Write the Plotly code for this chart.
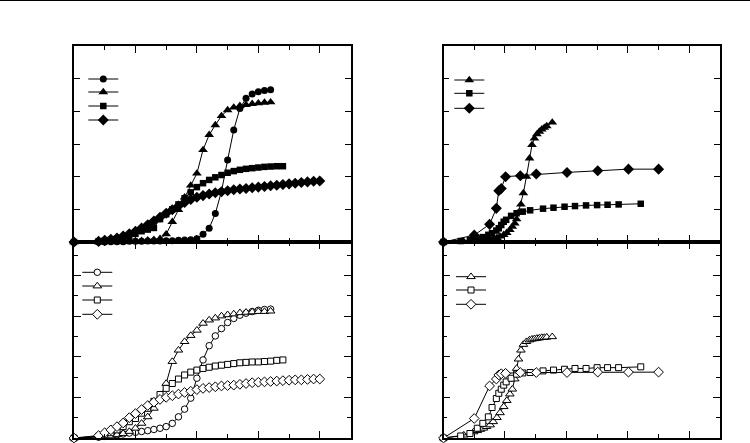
import plotly.graph_objects as go
from plotly.subplots import make_subplots

# ---------------- data ----------------
# Top-left panel (filled symbols)
tl_circle_x = [0, 0.4, 0.5, 0.6, 0.7, 0.8, 0.9, 1.0, 1.1, 1.2, 1.3, 1.4, 1.5, 1.6, 1.7, 1.8, 1.9, 2.0, 2.1, 2.2, 2.3, 2.4, 2.5, 2.6, 2.7, 2.8, 2.9, 3.0, 3.1, 3.2]
tl_circle_y = [0, 0.0, 0.0, 0.01, 0.01, 0.01, 0.02, 0.02, 0.02, 0.03, 0.03, 0.03, 0.04, 0.04, 0.05, 0.06, 0.07, 0.10, 0.24, 0.42, 0.87, 1.55, 2.51, 3.43, 4.09, 4.40, 4.53, 4.60, 4.64, 4.66]
tl_tri_x = tl_circle_x
tl_tri_y = [0, 0.0, 0.01, 0.01, 0.02, 0.02, 0.03, 0.03, 0.04, 0.05, 0.07, 0.10, 0.24, 0.62, 0.98, 1.37, 1.73, 2.10, 2.82, 3.28, 3.58, 3.86, 4.04, 4.12, 4.17, 4.20, 4.23, 4.25, 4.27, 4.28]
tl_sq_x = [0, 0.4, 0.5, 0.6, 0.7, 0.8, 0.9, 1.0, 1.1, 1.2, 1.3, 1.4, 1.5, 1.6, 1.7, 1.8, 1.9, 2.0, 2.1, 2.2, 2.3, 2.4, 2.5, 2.6, 2.7, 2.8, 2.9, 3.0, 3.1, 3.2, 3.3, 3.4]
tl_sq_y = [0, 0.02, 0.04, 0.07, 0.10, 0.14, 0.19, 0.25, 0.33, 0.38, 0.43, 0.70, 0.85, 1.00, 1.15, 1.34, 1.52, 1.68, 1.80, 1.90, 1.98, 2.05, 2.12, 2.17, 2.21, 2.24, 2.26, 2.28, 2.30, 2.31, 2.32, 2.32]
tl_dia_x = [0, 0.4, 0.5, 0.6, 0.7, 0.8, 0.9, 1.0, 1.1, 1.2, 1.3, 1.4, 1.5, 1.6, 1.7, 1.8, 1.9, 2.0, 2.1, 2.2, 2.3, 2.4, 2.5, 2.6, 2.7, 2.8, 2.9, 3.0, 3.1, 3.2, 3.3, 3.4, 3.5, 3.6, 3.7, 3.8, 3.9, 4.0]
tl_dia_y = [0, 0.02, 0.05, 0.08, 0.12, 0.18, 0.25, 0.33, 0.43, 0.53, 0.64, 0.76, 0.88, 0.99, 1.10, 1.21, 1.30, 1.37, 1.42, 1.47, 1.51, 1.54, 1.57, 1.60, 1.62, 1.64, 1.66, 1.68, 1.70, 1.72, 1.74, 1.76, 1.78, 1.80, 1.82, 1.84, 1.86, 1.87]

# Top-right panel (filled symbols)
r_tri_x = [0, 0.33, 0.49, 0.55, 0.60, 0.65, 0.70, 0.76, 0.81, 0.87, 0.92, 0.98, 1.03, 1.08, 1.12, 1.16, 1.19, 1.22, 1.26, 1.30, 1.35, 1.40, 1.44, 1.48, 1.52, 1.56, 1.60, 1.64, 1.68, 1.77]
tr_tri_y = [0, 0.01, 0.02, 0.03, 0.04, 0.05, 0.06, 0.08, 0.10, 0.13, 0.17, 0.22, 0.28, 0.37, 0.47, 0.57, 0.70, 0.90, 1.15, 1.50, 2.00, 2.56, 2.97, 3.17, 3.30, 3.38, 3.45, 3.50, 3.55, 3.66]
r_sq_x = [0, 0.28, 0.43, 0.55, 0.64, 0.73, 0.79, 0.86, 0.90, 0.94, 0.98, 1.02, 1.10, 1.19, 1.29, 1.41, 1.62, 1.79, 1.97, 2.14, 2.32, 2.50, 2.67, 2.85, 3.21]
tr_sq_y = [0, 0.03, 0.06, 0.10, 0.15, 0.22, 0.27, 0.35, 0.42, 0.52, 0.62, 0.68, 0.80, 0.88, 0.93, 0.97, 1.02, 1.05, 1.08, 1.10, 1.12, 1.13, 1.14, 1.15, 1.17]
r_dia_x = [0, 0.50, 0.75, 0.86, 0.90, 0.94, 1.01, 1.25, 1.51, 2.01, 2.51, 3.01, 3.50]
tr_dia_y = [0, 0.21, 0.54, 1.03, 1.57, 1.64, 2.00, 2.03, 2.08, 2.13, 2.18, 2.23, 2.23]

# Bottom-left panel (open symbols)
bl_circle_y = [0, 0.02, 0.04, 0.06, 0.08, 0.10, 0.12, 0.14, 0.16, 0.18, 0.21, 0.24, 0.28, 0.36, 0.52, 0.71, 0.98, 1.47, 1.92, 2.27, 2.51, 2.69, 2.84, 2.94, 3.02, 3.07, 3.11, 3.14, 3.16, 3.17]
bl_tri_y = [0, 0.02, 0.03, 0.05, 0.08, 0.11, 0.16, 0.24, 0.36, 0.52, 0.73, 1.00, 1.34, 1.88, 2.16, 2.37, 2.52, 2.65, 2.82, 2.90, 2.95, 3.00, 3.03, 3.05, 3.08, 3.09, 3.10, 3.11, 3.11, 3.12]
bl_sq_y = [0, 0.04, 0.08, 0.13, 0.20, 0.28, 0.40, 0.48, 0.61, 0.73, 0.90, 1.07, 1.22, 1.34, 1.45, 1.55, 1.62, 1.67, 1.71, 1.74, 1.77, 1.79, 1.81, 1.83, 1.85, 1.86, 1.87, 1.87, 1.88, 1.89, 1.91, 1.92]
bl_dia_y = [0, 0.06, 0.13, 0.20, 0.28, 0.37, 0.50, 0.60, 0.70, 0.80, 0.88, 0.95, 1.00, 1.04, 1.08, 1.12, 1.15, 1.19, 1.22, 1.24, 1.26, 1.28, 1.29, 1.30, 1.32, 1.34, 1.36, 1.37, 1.38, 1.39, 1.40, 1.41, 1.42, 1.43, 1.43, 1.44, 1.45, 1.45]

# Bottom-right panel (open symbols)
br_tri_y = [0, 0.07, 0.15, 0.18, 0.21, 0.24, 0.28, 0.32, 0.40, 0.50, 0.62, 0.77, 0.92, 1.08, 1.20, 1.45, 1.71, 1.94, 2.16, 2.30, 2.37, 2.41, 2.43, 2.44, 2.45, 2.46, 2.47, 2.47, 2.48, 2.49]
br_sq_y = [0, 0.05, 0.11, 0.24, 0.36, 0.52, 0.75, 0.97, 1.10, 1.20, 1.30, 1.38, 1.47, 1.57, 1.60, 1.61, 1.65, 1.67, 1.69, 1.71, 1.71, 1.73, 1.73, 1.73, 1.75]
br_dia_y = [0, 0.48, 1.28, 1.45, 1.55, 1.58, 1.59, 1.61, 1.61, 1.61, 1.62, 1.62, 1.62]

# ---------------- figure ----------------
W, H = 750, 443
ML, MR, MT, MB = 74, 30, 46, 5
PW, PH = W - ML - MR, H - MT - MB

fig = make_subplots(rows=2, cols=2, horizontal_spacing=93 / PW, vertical_spacing=0)

SYM = {"circle": "circle", "tri": "triangle-up", "sq": "square", "dia": "diamond"}
FILLED_SIZE = {"circle": 7, "tri": 8.5, "sq": 6.5, "dia": 8.5}
OPEN_SIZE = {"circle": 6.5, "tri": 7.5, "sq": 6, "dia": 7.5}

panels = [
    (1, 1, False, [("circle", tl_circle_x, tl_circle_y), ("tri", tl_tri_x, tl_tri_y),
                   ("sq", tl_sq_x, tl_sq_y), ("dia", tl_dia_x, tl_dia_y)]),
    (1, 2, False, [("tri", r_tri_x, tr_tri_y), ("sq", r_sq_x, tr_sq_y), ("dia", r_dia_x, tr_dia_y)]),
    (2, 1, True, [("circle", tl_circle_x, bl_circle_y), ("tri", tl_tri_x, bl_tri_y),
                  ("sq", tl_sq_x, bl_sq_y), ("dia", tl_dia_x, bl_dia_y)]),
    (2, 2, True, [("tri", r_tri_x, br_tri_y), ("sq", r_sq_x, br_sq_y), ("dia", r_dia_x, br_dia_y)]),
]

# legend marker centres in pixels (x, [y...]) per panel
legend_px = [
    (103.3, [79, 92, 106, 120]),
    (469.3, [80, 93.3, 108.3]),
    (97.3, [272.3, 286, 300, 314.3]),
    (471.0, [276.7, 290, 304.3]),
]

leg_i = 0
layout_legends = {}
for p, (row, col, is_open, series) in enumerate(panels):
    lx, lys = legend_px[p]
    for s, (key, xs, ys) in enumerate(series):
        leg_i += 1
        lname = "legend" if leg_i == 1 else f"legend{leg_i}"
        if is_open:
            marker = dict(symbol=SYM[key], size=OPEN_SIZE[key], color="white", line=dict(color="black", width=1))
        else:
            marker = dict(symbol=SYM[key], size=FILLED_SIZE[key], color="black", line=dict(color="black", width=0))
        fig.add_trace(go.Scatter(x=xs, y=ys, mode="lines+markers", name=" ",
                                 line=dict(color="black", width=1), marker=marker,
                                 legend=lname, showlegend=True, cliponaxis=False), row=row, col=col)
        layout_legends[lname] = dict(
            x=(lx - 20 - ML) / PW, xanchor="left",
            y=(H - MB - lys[s]) / PH, yanchor="middle",
            bgcolor="rgba(0,0,0,0)", borderwidth=0,
            font=dict(size=8, color="black"), itemclick=False,
        )

fig.update_layout(**layout_legends)

axis_common = dict(showline=True, linecolor="black", linewidth=1.5, mirror="ticks",
                   ticks="inside", tickcolor="black", tickwidth=1, showticklabels=False,
                   showgrid=False, zeroline=False, tick0=0)

for r in (1, 2):
    for c in (1, 2):
        fig.update_xaxes(range=[0, 4.5], dtick=1, ticklen=7,
                         minor=dict(ticks="inside", ticklen=4, dtick=0.5, tick0=0, tickcolor="black", tickwidth=1),
                         row=r, col=c, **axis_common)
for c in (1, 2):
    fig.update_yaxes(range=[0, 6], dtick=1, ticklen=6, row=1, col=c, **axis_common)
    fig.update_yaxes(range=[0, 4.82], dtick=1, ticklen=7,
                     minor=dict(ticks="inside", ticklen=4, dtick=0.5, tick0=0, tickcolor="black", tickwidth=1),
                     row=2, col=c, **axis_common)

# page separator line at top
fig.add_shape(type="line", xref="paper", yref="paper",
              x0=-ML / PW, x1=1 + MR / PW, y0=1 + (MT - 0.5) / PH, y1=1 + (MT - 0.5) / PH,
              line=dict(color="black", width=1))

fig.update_layout(width=W, height=H, margin=dict(l=ML, r=MR, t=MT, b=MB),
                  plot_bgcolor="white", paper_bgcolor="white", showlegend=True,
                  font=dict(family="Liberation Sans", color="black"))

fig.write_html("out.html", config={"displayModeBar": False},
               post_script="document.body.style.margin='0';document.body.style.overflow='hidden';")
